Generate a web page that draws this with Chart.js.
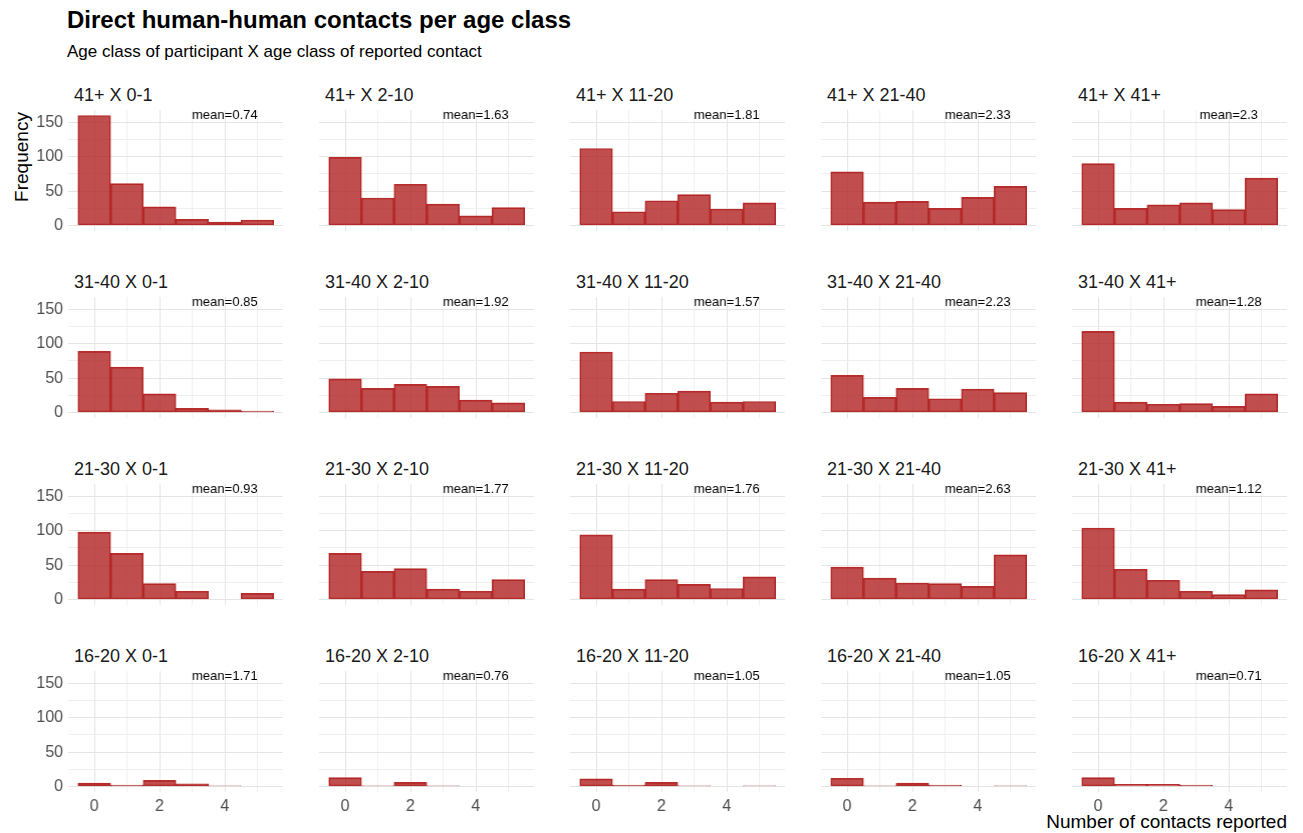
<!DOCTYPE html>
<html>
<head>
<meta charset="utf-8">
<script src="https://cdn.jsdelivr.net/npm/chart.js@4.4.1/dist/chart.umd.min.js"></script>
<style>
  body { margin: 0; background: #fff; font-family: "Liberation Sans", Arial, sans-serif; }
  #page { position: relative; width: 1303px; height: 833px; overflow: hidden; background: #fff; }
  .txt { position: absolute; white-space: nowrap; line-height: 1; }
  .panel { position: absolute; }
</style>
</head>
<body>
<div id="page"></div>
<script>
// facet rows = age class of participant, columns = age class of reported contact
const participantClasses = ["41+", "31-40", "21-30", "16-20"];
const contactClasses = ["0-1", "2-10", "11-20", "21-40", "41+"];
const contactsReported = [0, 1, 2, 3, 4, 5];

// counts per panel, one array per row, one inner list per column
const freq41plus = [
    [160, 61, 27, 9, 5, 8],
    [99, 40, 60, 31, 14, 26],
    [112, 20, 36, 45, 24, 33],
    [78, 34, 35, 25, 41, 57],
    [90, 25, 30, 33, 23, 69]
];
const freq31to40 = [
    [89, 66, 27, 6, 4, 2],
    [49, 35, 41, 38, 18, 14],
    [88, 16, 28, 31, 15, 16],
    [54, 22, 35, 20, 34, 29],
    [118, 15, 12, 13, 9, 27]
];
const freq21to30 = [
    [98, 67, 23, 12, 0, 9],
    [67, 41, 45, 15, 12, 29],
    [94, 15, 29, 22, 16, 33],
    [47, 31, 24, 23, 19, 65],
    [104, 44, 28, 12, 7, 14]
];
const freq16to20 = [
    [5, 2, 9, 4, 1, 0],
    [13, 1, 6, 1, 0, 0],
    [11, 2, 6, 1, 0, 1],
    [12, 1, 5, 2, 0, 1],
    [13, 3, 3, 2, 0, 0]
];

const means41plus = ["0.74", "1.63", "1.81", "2.33", "2.3"];
const means31to40 = ["0.85", "1.92", "1.57", "2.23", "1.28"];
const means21to30 = ["0.93", "1.77", "1.76", "2.63", "1.12"];
const means16to20 = ["1.71", "0.76", "1.05", "1.05", "0.71"];

const yTicks = [0, 25, 50, 75, 100, 125, 150];
const xTicks = [0, 1, 2, 3, 4, 5];

const freqByRow = [freq41plus, freq31to40, freq21to30, freq16to20];
const meansByRow = [means41plus, means31to40, means21to30, means16to20];

// Layout der Panels (Pixel)
const PANEL_W = 214.5;
const PANEL_H = 121;
const panelLeft = c => 68 + 251 * c;
const panelTop = r => 109.6 + 187 * r;

const page = document.getElementById("page");
const FONT = '"Liberation Sans", Arial, sans-serif';

// Text mit Grundlinie an y platzieren
function addText(str, x, baseline, size, opts = {}) {
    const d = document.createElement("div");
    d.className = "txt";
    d.textContent = str;
    d.style.fontSize = size + "px";
    d.style.top = (baseline - 0.8465 * size) + "px";
    if (opts.right) d.style.right = (1303 - x) + "px";
    else d.style.left = x + "px";
    d.style.fontWeight = opts.bold ? "bold" : "normal";
    d.style.color = opts.color || "#000";
    page.appendChild(d);
    return d;
}

addText("Direct human-human contacts per age class", 67, 28, 24, { bold: true });
addText("Age class of participant X age class of reported contact", 67, 57, 17);
addText("Number of contacts reported", 1287, 828, 19, { right: true });

const ylab = document.createElement("div");
ylab.className = "txt";
ylab.textContent = "Frequency";
ylab.style.fontSize = "19px";
ylab.style.left = "21px";
ylab.style.top = "157px";
ylab.style.transform = "translate(-50%, -50%) rotate(-90deg)";
page.appendChild(ylab);

const meanLabel = {
    id: "meanLabel",
    afterDatasetsDraw(chart, args, opts) {
        const ctx = chart.ctx;
        ctx.save();
        ctx.font = "13px " + FONT;
        ctx.fillStyle = "#000";
        ctx.textAlign = "center";
        ctx.textBaseline = "middle";
        ctx.fillText(opts.text, chart.scales.x.getPixelForValue(4), chart.scales.y.getPixelForValue(160));
        ctx.restore();
    }
};

function gridColor(ctx, step) {
    return ctx.tick && ctx.tick.value % step === 0 ? "#e4e4e4" : "#efefef";
}

function makePanel(r, c) {
    const first = c === 0;
    const bottom = r === 3;
    const yW = first ? 50 : 0;
    const xH = bottom ? 30 : 0;

    const div = document.createElement("div");
    div.className = "panel";
    div.style.left = (panelLeft(c) - yW) + "px";
    div.style.top = panelTop(r) + "px";
    div.style.width = (PANEL_W + yW) + "px";
    div.style.height = (PANEL_H + xH) + "px";
    const canvas = document.createElement("canvas");
    div.appendChild(canvas);
    page.appendChild(div);

    addText(participantClasses[r] + " X " + contactClasses[c],
        panelLeft(c) + 6, panelTop(r) - 8, 18, { color: "#1a1a1a" });

    new Chart(canvas, {
        type: "bar",
        data: {
            datasets: [{
                data: contactsReported.map((x, i) => ({ x: x, y: freqByRow[r][c][i] })),
                backgroundColor: "rgba(178, 34, 34, 0.8)",
                borderColor: "rgba(178, 34, 34, 0.95)",
                borderWidth: 1,
                borderSkipped: false,
                barPercentage: 1,
                categoryPercentage: 1
            }]
        },
        options: {
            responsive: true,
            maintainAspectRatio: false,
            animation: false,
            layout: { padding: 0 },
            plugins: {
                legend: { display: false },
                tooltip: { enabled: false },
                meanLabel: { text: "mean=" + meansByRow[r][c] }
            },
            scales: {
                x: {
                    type: "linear",
                    offset: false,
                    min: -0.8,
                    max: 5.8,
                    afterBuildTicks: s => { s.ticks = xTicks.map(v => ({ value: v })); },
                    afterFit: s => { s.height = xH; s.paddingLeft = 0; s.paddingRight = 0; },
                    grid: { offset: false, color: ctx => gridColor(ctx, 2), lineWidth: 1, drawTicks: false },
                    border: { display: false },
                    ticks: {
                        display: bottom,
                        autoSkip: false,
                        maxRotation: 0,
                        padding: 5,
                        color: "#4d4d4d",
                        font: { family: FONT, size: 16 },
                        callback: v => (v % 2 === 0 ? v : "")
                    }
                },
                y: {
                    type: "linear",
                    min: -8,
                    max: 168,
                    afterBuildTicks: s => { s.ticks = yTicks.map(v => ({ value: v })); },
                    afterFit: s => { s.width = yW; s.paddingTop = 0; s.paddingBottom = 0; },
                    grid: { color: ctx => gridColor(ctx, 50), lineWidth: 1, drawTicks: false },
                    border: { display: false },
                    ticks: {
                        display: first,
                        autoSkip: false,
                        padding: 5,
                        color: "#4d4d4d",
                        font: { family: FONT, size: 16 },
                        callback: v => (v % 50 === 0 ? v : "")
                    }
                }
            }
        },
        plugins: [meanLabel]
    });
}

for (let r = 0; r < participantClasses.length; r++) {
    for (let c = 0; c < contactClasses.length; c++) {
        makePanel(r, c);
    }
}
</script>
</body>
</html>
